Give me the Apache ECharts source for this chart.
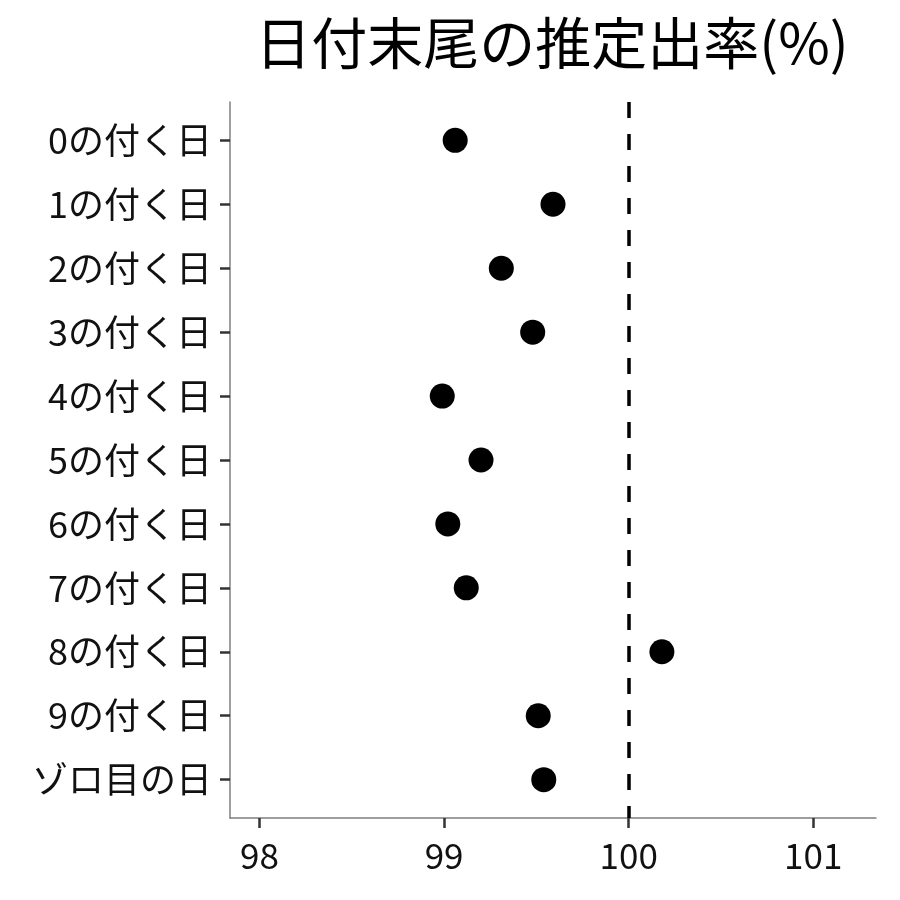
<!DOCTYPE html>
<html>
<head>
<meta charset="utf-8">
<script src="https://cdn.jsdelivr.net/npm/echarts@6/dist/echarts.min.js"></script>
<style>
  html, body { margin: 0; padding: 0; background: #fff; }
  #main { width: 900px; height: 900px; }
</style>
</head>
<body>
<div id="main"></div>
<script>
// カテゴリ（上から順）
var categories = ['0の付く日', '1の付く日', '2の付く日', '3の付く日', '4の付く日',
  '5の付く日', '6の付く日', '7の付く日', '8の付く日', '9の付く日', 'ゾロ目の日'];
// 推定出率(%)
var rates = [99.06, 99.59, 99.31, 99.48, 98.99, 99.20, 99.02, 99.12, 100.18, 99.51, 99.54];
var xTicks = [98, 99, 100, 101];
var refLine = 100;

var font = '"Noto Sans CJK JP", "Noto Sans", sans-serif';

var points = rates.map(function (v, i) { return [v, i]; });
var yTicks = categories.map(function (c, i) { return i; });

var myChart = echarts.init(document.getElementById('main'));
var option = {
  backgroundColor: '#fff',
  animation: false,
  title: {
    text: '日付末尾の推定出率(%)',
    left: 547, top: 10, textAlign: 'center',
    textStyle: { fontFamily: font, fontSize: 56, fontWeight: 'normal', color: '#000' }
  },
  grid: { left: 230, right: 24, top: 102, bottom: 82 },
  xAxis: {
    type: 'value', min: 97.84, max: 101.34,
    axisLine: { show: true, onZero: false, lineStyle: { color: '#7f7f7f', width: 1.5 } },
    axisTick: { show: true, customValues: xTicks, length: 10, lineStyle: { color: '#333', width: 2.5 } },
    axisLabel: { customValues: xTicks, margin: 20, fontFamily: font, fontSize: 35, color: '#111' },
    splitLine: { show: false }
  },
  yAxis: {
    type: 'value', inverse: true, min: -0.6, max: categories.length - 0.4,
    axisLine: { show: true, onZero: false, lineStyle: { color: '#7f7f7f', width: 1.5 } },
    axisTick: { show: true, customValues: yTicks, length: 10, lineStyle: { color: '#333', width: 2.5 } },
    axisLabel: {
      customValues: yTicks,
      formatter: function (v) { return categories[Math.round(v)]; },
      margin: 18, fontFamily: font, fontSize: 36, color: '#111'
    },
    splitLine: { show: false }
  },
  series: [{
    type: 'scatter',
    data: points,
    symbolSize: 25,
    itemStyle: { color: '#000', opacity: 1 },
    markLine: {
      silent: true, symbol: 'none', label: { show: false },
      lineStyle: { color: '#000', type: [16, 16], width: 3.5 },
      data: [{ xAxis: refLine }]
    }
  }]
};
myChart.setOption(option);
</script>
</body>
</html>
